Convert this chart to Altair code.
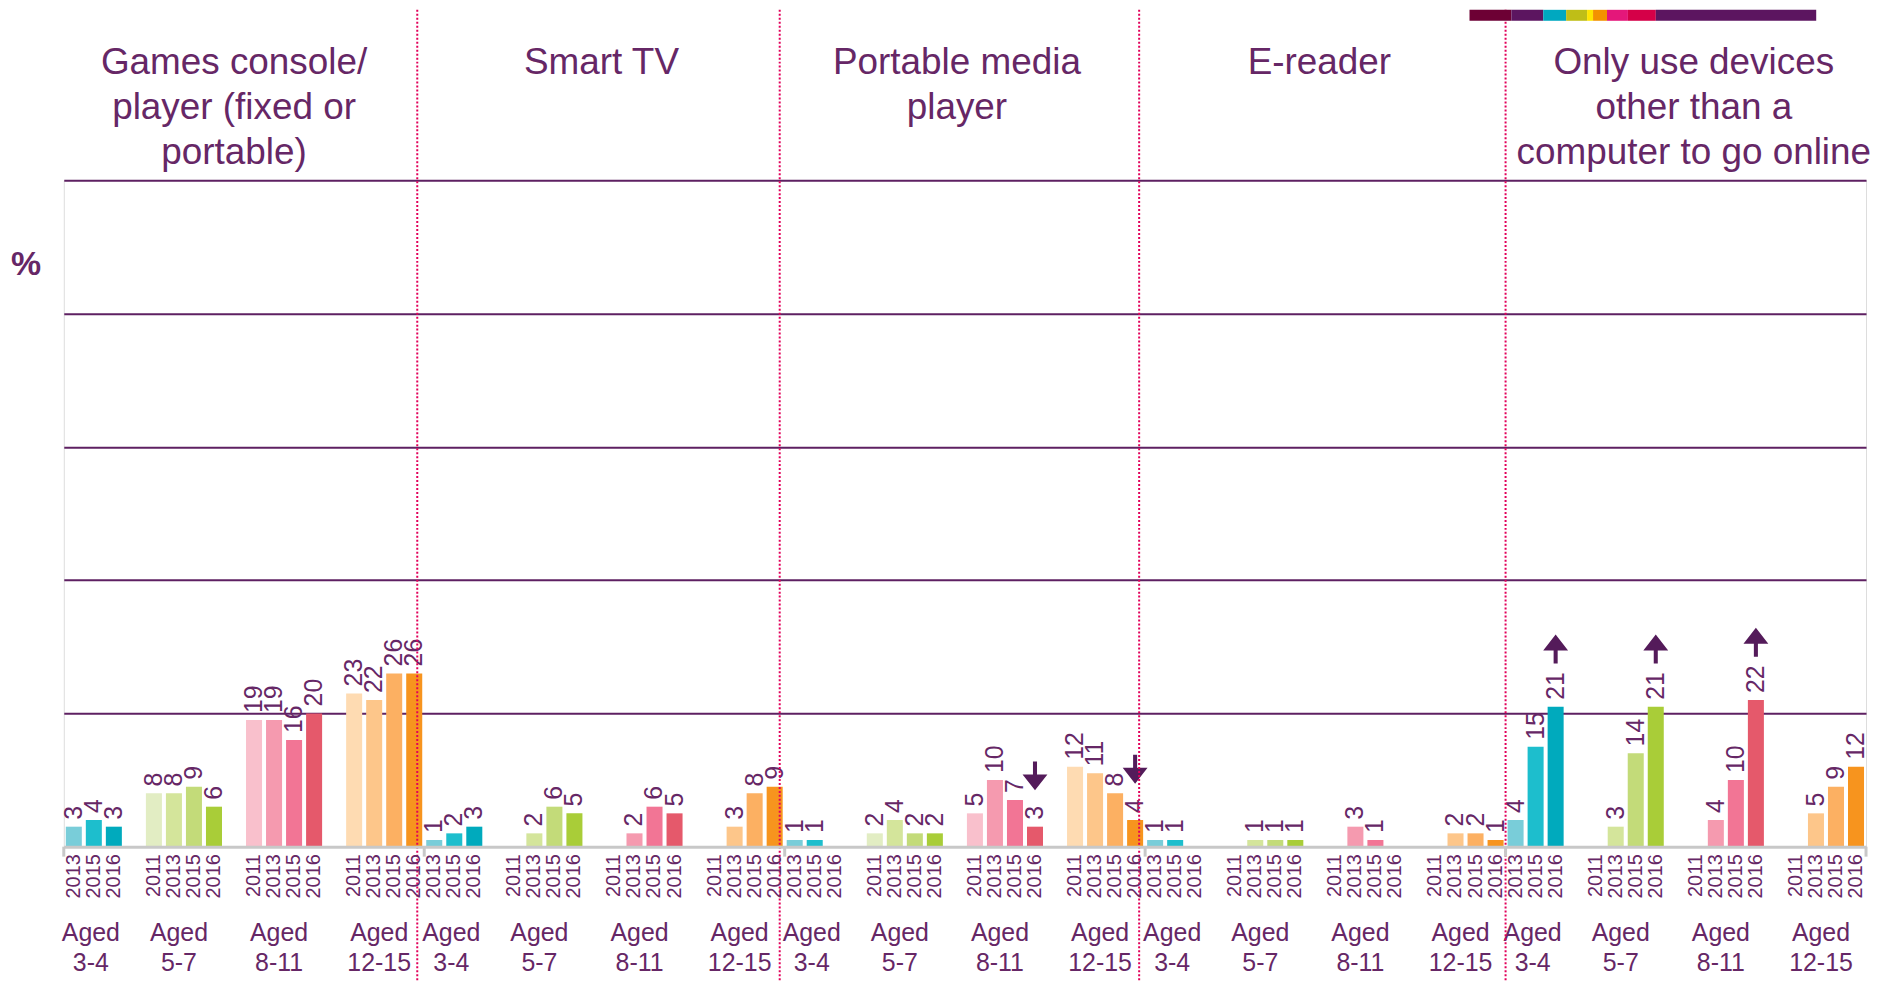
import altair as alt
import pandas as pd

# ---------------- data ----------------
panel_ids = ["P1", "P2", "P3", "P4", "P5"]
panel_titles = [
    "Games console/\nplayer (fixed or\nportable)",
    "Smart TV",
    "Portable media\nplayer",
    "E-reader",
    "Only use devices\nother than a\ncomputer to go online",
]
ages = ["3-4", "5-7", "8-11", "12-15"]
years_young = ["2013", "2015", "2016"]          # aged 3-4
years_other = ["2011", "2013", "2015", "2016"]  # other age groups

games_console = [[3, 4, 3], [8, 8, 9, 6], [19, 19, 16, 20], [23, 22, 26, 26]]
smart_tv = [[1, 2, 3], [None, 2, 6, 5], [None, 2, 6, 5], [None, 3, 8, 9]]
portable_media = [[1, 1, None], [2, 4, 2, 2], [5, 10, 7, 3], [12, 11, 8, 4]]
e_reader = [[1, 1, None], [None, 1, 1, 1], [None, 3, 1, None], [None, 2, 2, 1]]
only_other = [[4, 15, 21], [None, 3, 14, 21], [None, 4, 10, 22], [None, 5, 9, 12]]
panel_values = [games_console, smart_tv, portable_media, e_reader, only_other]

arrows_up = [("P5", "3-4", "2016"), ("P5", "5-7", "2016"), ("P5", "8-11", "2016")]
arrows_down = [("P3", "8-11", "2016"), ("P3", "12-15", "2016")]

shade_keys = ["3-4|2013", "3-4|2015", "3-4|2016",
              "5-7|2011", "5-7|2013", "5-7|2015", "5-7|2016",
              "8-11|2011", "8-11|2013", "8-11|2015", "8-11|2016",
              "12-15|2011", "12-15|2013", "12-15|2015", "12-15|2016"]
shade_colors = ["#79CDD9", "#1DBECD", "#00AABD",
                "#E2EDC3", "#D4E59B", "#C3DB79", "#A9CD38",
                "#F9C0CC", "#F59AAF", "#F27595", "#E5596B",
                "#FEDBB2", "#FDC68A", "#FCB062", "#F7941E"]

band_colors = ["#6D0034", "#5C1560", "#00A8C0", "#BFBE17", "#FFE500",
               "#F39200", "#E4177A", "#D50048", "#5C1560"]

# ---------------- style ----------------
PURPLE = "#662766"
GRID = "#5E2062"
ARROW = "#541B5A"
SEP = "#E2005A"
AXIS_GREY = "#C8C8C8"
FONT = "Liberation Sans"
W, H = 1809, 669
BOTTOM = 134

title_shift = [-10, -3, -8, -6, 8]      # fine horizontal nudges (px) for panel titles
sep_shift = [-7, -5, -6, 0]             # nudges for the dotted separators


def years_for(age):
    return years_young if age == "3-4" else years_other


slots = []
for p in panel_ids:
    for i, a in enumerate(ages):
        for y in years_for(a):
            slots.append(f"{p}|{a}|{y}")
        if i < len(ages) - 1:
            slots.append(f"{p}|g{i}|")

rows = []
for p, vals in zip(panel_ids, panel_values):
    for a, row in zip(ages, vals):
        for y, v in zip(years_for(a), row):
            if v is not None:
                rows.append({"key": f"{p}|{a}|{y}", "value": v, "shade": f"{a}|{y}"})
bars_df = pd.DataFrame(rows)
lookup = dict(zip(bars_df["key"], bars_df["value"]))

up_df = pd.DataFrame([{"key": f"{p}|{a}|{y}", "value": lookup[f"{p}|{a}|{y}"]} for p, a, y in arrows_up])
down_df = pd.DataFrame([{"key": f"{p}|{a}|{y}", "value": lookup[f"{p}|{a}|{y}"]} for p, a, y in arrows_down])

slot_scale = alt.Scale(type="band", domain=slots, paddingInner=0.2, paddingOuter=0.1)
panel_scale = alt.Scale(type="band", domain=panel_ids, paddingInner=0, paddingOuter=0)
y_scale = alt.Scale(domain=[0, 100])

base = alt.Chart(bars_df)

bars = base.mark_bar().encode(
    x=alt.X("key:N", scale=slot_scale, sort=slots,
            axis=alt.Axis(labelExpr="split(datum.value, '|')[2]", labelAngle=270,
                          labelFontSize=20, labelColor=PURPLE, labelFont=FONT,
                          ticks=False, tickSize=0, labelPadding=7, labelOverlap=False,
                          domainColor=AXIS_GREY, domainWidth=3, grid=False,
                          title=None, zindex=1)),
    y=alt.Y("value:Q", scale=y_scale,
            axis=alt.Axis(values=[20, 40, 60, 80, 100], grid=True, gridColor=GRID,
                          gridWidth=2, gridOpacity=1, labels=False, ticks=False,
                          domain=False, title=None)),
    color=alt.Color("shade:N", scale=alt.Scale(domain=shade_keys, range=shade_colors), legend=None),
)

value_labels = base.mark_text(angle=270, align="left", baseline="middle", dx=7,
                              fontSize=25, color=PURPLE, font=FONT).encode(
    x=alt.X("key:N", scale=slot_scale, axis=None, bandPosition=0.5),
    y=alt.Y("value:Q", scale=y_scale),
    text=alt.Text("value:Q", format="d"),
)

up_path = "M0,-1L0.86,0.1L0.14,0.1L0.14,1L-0.14,1L-0.14,0.1L-0.86,0.1Z"
down_path = "M0,1L0.86,-0.1L0.14,-0.1L0.14,-1L-0.14,-1L-0.14,-0.1L-0.86,-0.1Z"

up_arrows = alt.Chart(up_df).mark_point(shape=up_path, size=841, filled=True, color=ARROW,
                                        opacity=1, yOffset=-58).encode(
    x=alt.X("key:N", scale=slot_scale, axis=None, bandPosition=0.5),
    y=alt.Y("value:Q", scale=y_scale),
)
down_arrows = alt.Chart(down_df).mark_point(shape=down_path, size=841, filled=True, color=ARROW,
                                            opacity=1, yOffset=-51).encode(
    x=alt.X("key:N", scale=slot_scale, axis=None, bandPosition=0.5),
    y=alt.Y("value:Q", scale=y_scale),
)

# age group labels
young_df = pd.DataFrame({"key": [f"{p}|3-4|2015" for p in panel_ids],
                         "label": ["Aged\n3-4"] * len(panel_ids)})
older_df = pd.DataFrame([{"key": f"{p}|{a}|2013", "label": f"Aged\n{a}"}
                         for p in panel_ids for a in ages[1:]])
age_young = alt.Chart(young_df).mark_text(fontSize=25, lineHeight=30, color=PURPLE, font=FONT,
                                          baseline="alphabetic", align="center", lineBreak="\n",
                                          xOffset=-3).encode(
    x=alt.X("key:N", scale=slot_scale, axis=None, bandPosition=0.5),
    y=alt.value(764), text="label:N")
age_older = alt.Chart(older_df).mark_text(fontSize=25, lineHeight=30, color=PURPLE, font=FONT,
                                          baseline="alphabetic", align="center", lineBreak="\n",
                                          xOffset=-3).encode(
    x=alt.X("key:N", scale=slot_scale, axis=None, bandPosition=1),
    y=alt.value(764), text="label:N")

# panel titles (one layer per panel for small individual nudges)
title_layers = []
for pid, ttl, sh in zip(panel_ids, panel_titles, title_shift):
    title_layers.append(
        alt.Chart(pd.DataFrame({"panel": [pid], "title": [ttl]})).mark_text(
            fontSize=37, lineHeight=45.5, color=PURPLE, font=FONT, baseline="alphabetic",
            align="center", lineBreak="\n", xOffset=sh).encode(
            x=alt.X("panel:N", scale=panel_scale, axis=None, bandPosition=0.5),
            y=alt.value(-107), text="title:N"))

# dotted separators between panels
sep_layers = []
for pid, sh in zip(panel_ids[1:], sep_shift):
    sep_layers.append(
        alt.Chart(pd.DataFrame({"panel": [pid]})).mark_rule(
            color=SEP, strokeWidth=2, strokeDash=[2, 2], xOffset=sh).encode(
            x=alt.X("panel:N", scale=panel_scale, axis=None, bandPosition=0),
            y=alt.value(-171), y2=alt.value(H + BOTTOM)))

# small grey ticks at panel boundaries
tick_df = pd.DataFrame({"panel": panel_ids})
ticks_start = alt.Chart(tick_df).mark_rule(color=AXIS_GREY, strokeWidth=3).encode(
    x=alt.X("panel:N", scale=panel_scale, axis=None, bandPosition=0),
    y=alt.value(H), y2=alt.value(H + 10))
ticks_end = alt.Chart(pd.DataFrame({"panel": panel_ids[-1:]})).mark_rule(color=AXIS_GREY, strokeWidth=3).encode(
    x=alt.X("panel:N", scale=panel_scale, axis=None, bandPosition=1),
    y=alt.value(H), y2=alt.value(H + 10))

# "%" label
pct = alt.Chart(pd.DataFrame({"t": ["%"]})).mark_text(fontSize=34, fontWeight="bold", color=PURPLE,
                                                      font=FONT, align="center", baseline="middle").encode(
    x=alt.value(-38), y=alt.value(85), text="t:N")

# decorative colour band top right
band_edges = [1411, 1453, 1485, 1508, 1529, 1535, 1549, 1570, 1598, 1759]
band_layers = []
for i, c in enumerate(band_colors):
    band_layers.append(
        alt.Chart(pd.DataFrame({"c": [c]})).mark_rect(color=c).encode(
            x=alt.value(band_edges[i]), x2=alt.value(band_edges[i + 1]),
            y=alt.value(-171), y2=alt.value(-160)))

chart = alt.layer(
    bars, value_labels, up_arrows, down_arrows, age_young, age_older,
    *title_layers, *sep_layers, ticks_start, ticks_end, pct, *band_layers
).resolve_scale(x="independent").properties(
    width=W, height=H,
    autosize=alt.AutoSizeParams(type="none"),
    padding={"left": 56, "top": 171, "right": 6, "bottom": BOTTOM},
).configure_view(stroke="transparent").configure(font=FONT)

chart.save("out.html", embed_options={"renderer": "svg", "actions": False})
